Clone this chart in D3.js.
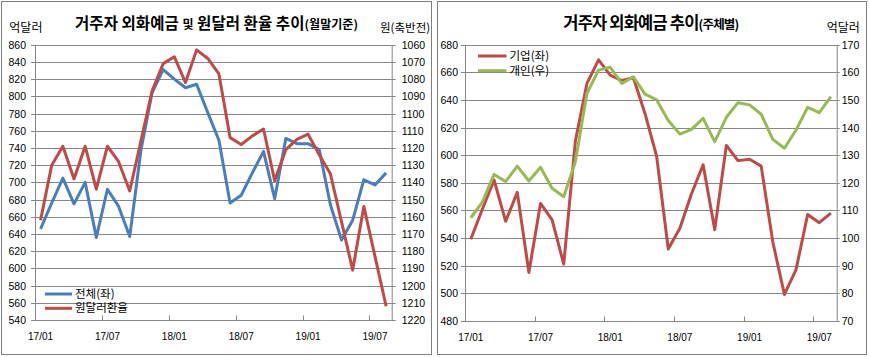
<!DOCTYPE html>
<html><head><meta charset="utf-8">
<script src="https://cdn.jsdelivr.net/npm/d3@7"></script>
<style>
html,body{margin:0;padding:0;background:#fff;}
svg text{font-family:"Noto Sans CJK KR","Liberation Sans",sans-serif;fill:#000;}
.num{font-family:"Liberation Sans",Arial,sans-serif;}
</style></head>
<body>
<svg id="c" width="869" height="357"></svg>
<script>
const categories = ["17/01","17/02","17/03","17/04","17/05","17/06","17/07","17/08","17/09","17/10","17/11","17/12",
  "18/01","18/02","18/03","18/04","18/05","18/06","18/07","18/08","18/09","18/10","18/11","18/12",
  "19/01","19/02","19/03","19/04","19/05","19/06","19/07","19/08"];
const xTickLabels = ["17/01","17/07","18/01","18/07","19/01","19/07"];

// Left chart: 전체(좌), 억달러 ; 원달러환율 (right axis, reversed)
const totalDeposits = [646,676,705,675,700,636,692,672,637,737,804,831,
  820,810,814,781,749,676,685,711,736,681,751,745,
  745,738,674,633,656,703,697,711];
const usdKrw = [1162,1130,1119,1138,1119,1144,1119,1128,1145,1116,1087,1071,
  1067,1082,1063,1068,1077,1114,1118,1113,1109,1139,1121,1115,
  1112,1124,1135,1163,1191,1154,1183,1212];
const leftTicksL = [540,560,580,600,620,640,660,680,700,720,740,760,780,800,820,840,860];
const leftTicksR = [1060,1070,1080,1090,1100,1110,1120,1130,1140,1150,1160,1170,1180,1190,1200,1210,1220];

// Right chart: 기업(좌), 개인(우)
const corporate = [539,561,582,552,573,515,565,553,521,610,652,669,
  658,654,656,630,599,532,547,572,593,546,607,596,
  597,592,537,499,517,557,551,558];
const individual = [107.3,113,123,120.4,126,120.6,125.6,118,114.9,127.6,152.4,160.8,
  161.8,156,158.4,152.1,150,142.5,137.6,139.3,143.3,134.9,143.7,149,
  148.2,144.8,135.7,132.5,139.1,147.3,145.4,151.2];
const rightTicksL = [480,500,520,540,560,580,600,620,640,660,680];
const rightTicksR = [70,80,90,100,110,120,130,140,150,160,170];

const C_BLUE="#4a7ebb", C_RED="#be4b48", C_GREEN="#98b954", C_GRID="#868686";

const svg = d3.select("#c");

// panel frames
svg.append("rect").attr("x",1.5).attr("y",1.5).attr("width",430).attr("height",353)
  .attr("fill","none").attr("stroke","#7f7f7f");
svg.append("rect").attr("x",437.5).attr("y",1.5).attr("width",429).attr("height",353)
  .attr("fill","none").attr("stroke","#7f7f7f");

function panel(cfg){
  const g = svg.append("g");
  const x = d3.scaleBand().domain(categories).range([cfg.x0,cfg.x1]).paddingInner(0).paddingOuter(0);
  const cx = d => x(d)+x.bandwidth()/2;
  const yL = d3.scaleLinear().domain(cfg.domL).range([cfg.yb,cfg.yt]);
  const yR = d3.scaleLinear().domain(cfg.domR).range(cfg.revR?[cfg.yt,cfg.yb]:[cfg.yb,cfg.yt]);
  const fmt = d3.format("d");

  // gridlines
  g.append("g").selectAll("line").data(cfg.ticksL).join("line")
    .attr("x1",cfg.x0).attr("x2",cfg.x1)
    .attr("y1",d=>Math.round(yL(d))+0.5).attr("y2",d=>Math.round(yL(d))+0.5)
    .attr("stroke",C_GRID).attr("stroke-width",1);

  // axes
  const aL = g.append("g").attr("transform",`translate(${cfg.x0},0)`)
    .call(d3.axisLeft(yL).tickValues(cfg.ticksL).tickFormat(fmt).tickSize(cfg.tL).tickPadding(cfg.pL).tickSizeOuter(0));
  const aR = g.append("g").attr("transform",`translate(${cfg.x1},0)`)
    .call(d3.axisRight(yR).tickValues(cfg.ticksR).tickFormat(fmt).tickSize(cfg.tR).tickPadding(cfg.pR).tickSizeOuter(0));
  [aL,aR].forEach(a=>{
    a.select(".domain").attr("stroke",C_GRID);
    a.selectAll(".tick line").attr("stroke",C_GRID);
    a.selectAll(".tick text").attr("class","num").style("font-size",cfg.fsY+"px")
      .attr("fill","#000");
  });
  aL.selectAll(".tick").attr("transform",d=>`translate(0,${Math.round(yL(d))+0.5})`);
  aR.selectAll(".tick").attr("transform",d=>`translate(0,${Math.round(yR(d))+0.5})`);

  // x axis ticks and labels
  const bottomY = Math.round(cfg.yb)+0.5;
  const xa = g.append("g").attr("transform",`translate(0,${bottomY})`)
    .call(d3.axisBottom(x).tickValues(xTickLabels).tickSize(0).tickPadding(cfg.xPad));
  xa.select(".domain").remove();
  xa.selectAll(".tick text").attr("class","num").style("font-size","10px").attr("fill","#000");
  g.append("g").selectAll("line").data(xTickLabels).join("line")
    .attr("x1",d=>Math.round(x(d))+0.5).attr("x2",d=>Math.round(x(d))+0.5)
    .attr("y1",bottomY).attr("y2",bottomY-5).attr("stroke",C_GRID);

  const lineL = d3.line().x((d,i)=>cx(categories[i])).y(d=>yL(d));
  const lineR = d3.line().x((d,i)=>cx(categories[i])).y(d=>yR(d));
  g.append("path").datum(cfg.s1).attr("d",lineL).attr("fill","none")
    .attr("stroke",cfg.c1).attr("stroke-width",3).attr("stroke-linejoin","round");
  g.append("path").datum(cfg.s2).attr("d",lineR).attr("fill","none")
    .attr("stroke",cfg.c2).attr("stroke-width",3).attr("stroke-linejoin","round");

  // legend
  const lg = g.append("g");
  cfg.legend.forEach((L,i)=>{
    const yy = cfg.legY + i*cfg.legDy;
    lg.append("line").attr("x1",cfg.legX).attr("x2",cfg.legX+cfg.legW).attr("y1",yy).attr("y2",yy)
      .attr("stroke",L.c).attr("stroke-width",3);
    lg.append("text").attr("x",cfg.legX+cfg.legW+3).attr("y",yy).attr("dy","0.36em")
      .style("font-size","11.5px").text(L.t);
  });
  return g;
}

panel({x0:35,x1:391.7,yt:44.7,yb:320,domL:[540,860],domR:[1060,1220],revR:true,
  ticksL:leftTicksL,ticksR:leftTicksR,tL:4,pL:5,tR:4,pR:6,fsY:10.5,xPad:12,
  s1:totalDeposits,s2:usdKrw,c1:C_BLUE,c2:C_RED,
  legend:[{t:"전체(좌)",c:C_BLUE},{t:"원달러환율",c:C_RED}],legX:45,legW:27,legY:294,legDy:14.3});

panel({x0:465,x1:836.7,yt:44.7,yb:320.7,domL:[480,680],domR:[70,170],revR:false,
  ticksL:rightTicksL,ticksR:rightTicksR,tL:4,pL:3,tR:3,pR:2,fsY:10.5,xPad:12,
  s1:corporate,s2:individual,c1:C_RED,c2:C_GREEN,
  legend:[{t:"기업(좌)",c:C_RED},{t:"개인(우)",c:C_GREEN}],legX:478,legW:28.5,legY:56,legDy:14.7});

// titles and unit labels
const t1 = svg.append("text").attr("x",75).attr("y",29).style("font-weight","bold")
  .attr("textLength",283).attr("lengthAdjust","spacing");
t1.append("tspan").style("font-size","15.5px").text("거주자 외화예금 ");
t1.append("tspan").style("font-size","12px").text("및");
t1.append("tspan").style("font-size","15.5px").text(" 원달러 환율 추이");
t1.append("tspan").style("font-size","12px").text("(월말기준)");

const t2 = svg.append("text").attr("x",563.3).attr("y",29).style("font-weight","bold")
  .attr("textLength",176).attr("lengthAdjust","spacing");
t2.append("tspan").style("font-size","16.5px").text("거주자 외화예금 추이");
t2.append("tspan").style("font-size","12.5px").text("(주체별)");

svg.append("text").attr("x",9.3).attr("y",31.5).style("font-size","12px").text("억달러");
svg.append("text").attr("x",380).attr("y",31.5).style("font-size","11.5px").text("원(축반전)");
svg.append("text").attr("x",826.7).attr("y",31.5).style("font-size","12px").text("억달러");
</script>
</body></html>
